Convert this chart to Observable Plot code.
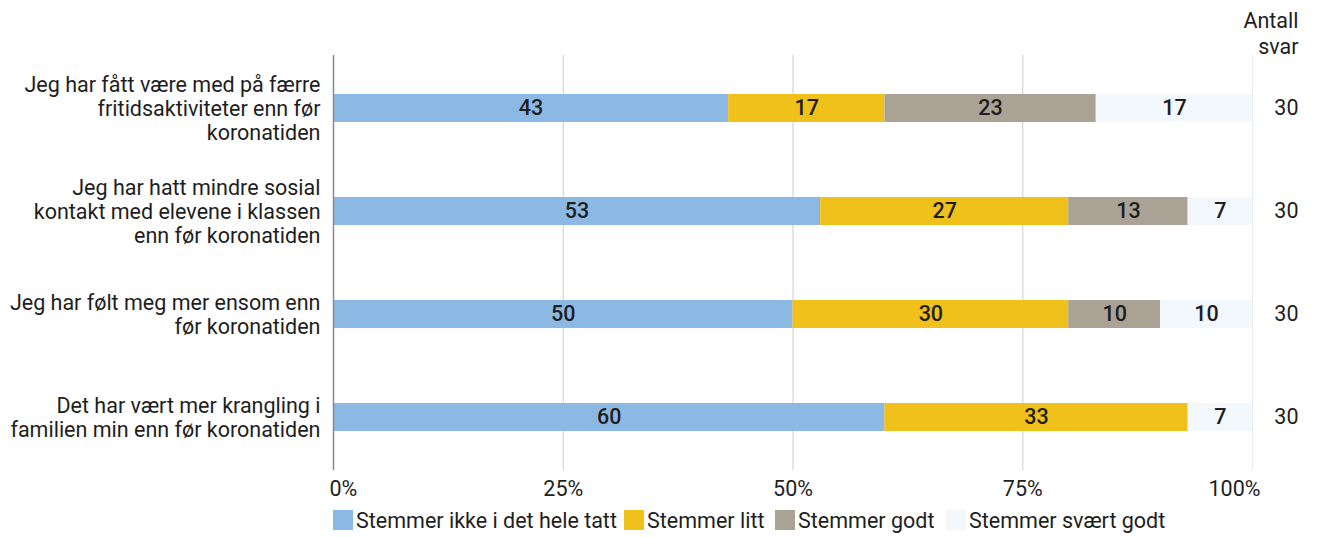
<!DOCTYPE html>
<html>
<head>
<meta charset="utf-8">
<script src="https://cdn.jsdelivr.net/npm/d3@7"></script>
<script src="https://cdn.jsdelivr.net/npm/@observablehq/plot@0.6"></script>
<style>
  body { margin: 0; background: #fff; font-family: Roboto, "Liberation Sans", sans-serif; }
  #legend { position: relative; height: 34px; font-size: 21.5px; font-weight: 400; color: #1e1e1e; }
  .item { position: absolute; top: 0; height: 34px; display: flex; align-items: center; white-space: nowrap; }
  .sw { width: 20px; height: 20px; margin-right: 3px; }
</style>
</head>
<body>
<div id="chart"></div>
<div id="legend"></div>
<script>
const categories = [
  "Jeg har fått være med på færre fritidsaktiviteter enn før koronatiden",
  "Jeg har hatt mindre sosial kontakt med elevene i klassen enn før koronatiden",
  "Jeg har følt meg mer ensom enn før koronatiden",
  "Det har vært mer krangling i familien min enn før koronatiden"
];
const categoryLabels = [
  "Jeg har fått være med på færre\nfritidsaktiviteter enn før\nkoronatiden",
  "Jeg har hatt mindre sosial\nkontakt med elevene i klassen\nenn før koronatiden",
  "Jeg har følt meg mer ensom enn\nfør koronatiden",
  "Det har vært mer krangling i\nfamilien min enn før koronatiden"
];
const seriesNames = ["Stemmer ikke i det hele tatt", "Stemmer litt", "Stemmer godt", "Stemmer svært godt"];
const seriesColors = ["#8cb9e4", "#efc11a", "#aaa295", "#f3f8fc"];
const stemmerIkke = [43, 53, 50, 60];
const stemmerLitt = [17, 27, 30, 33];
const stemmerGodt = [23, 13, 10, 0];
const stemmerSvaertGodt = [17, 7, 10, 7];
const antallSvar = [30, 30, 30, 30];
const antallHeader = "Antall\nsvar";
const xTicks = [0, 25, 50, 75, 100];
const xTickLabels = ["0%", "25%", "50%", "75%", "100%"];

const seriesValues = [stemmerIkke, stemmerLitt, stemmerGodt, stemmerSvaertGodt];
const data = categories.flatMap((c, i) =>
  seriesValues.map((arr, j) => ({ category: c, series: seriesNames[j], value: arr[i] }))
);
const fmtX = d => xTickLabels[xTicks.indexOf(d)];
const txt = "#1e1e1e";
const fs = 21.5;
const fw = 400;

const chart = Plot.plot({
  width: 1341,
  height: 503,
  marginLeft: 333,
  marginRight: 89,
  marginTop: 55,
  marginBottom: 33,
  style: { fontFamily: "Roboto, 'Liberation Sans', sans-serif", fontSize: fs + "px", color: txt, background: "#fff" },
  x: { domain: [0, 100], label: null },
  y: { domain: categories, paddingInner: 0.73, paddingOuter: 0.37, axis: null },
  color: { domain: seriesNames, range: seriesColors },
  marks: [
    Plot.ruleX([25, 50, 75], { stroke: "#d4d4d4", strokeWidth: 1.2 }),
    Plot.ruleX([100], { stroke: "#ececec", strokeWidth: 1.2 }),
    Plot.barX(data, Plot.stackX({ x: "value", y: "category", fill: "series" })),
    Plot.ruleX([0], { stroke: "#8a8a8a", strokeWidth: 1.5 }),
    Plot.text(data, Plot.stackX({
      x: "value", y: "category", z: "series",
      text: d => d.value > 0 ? String(d.value) : "",
      fill: txt, fontSize: fs, fontWeight: 500
    })),
    Plot.text(categories, {
      y: d => d, text: (d, i) => categoryLabels[i],
      frameAnchor: "left", textAnchor: "end", dx: -13,
      lineHeight: 1.12, fontSize: fs, fontWeight: fw, fill: txt
    }),
    Plot.text(categories, {
      y: d => d, text: (d, i) => String(antallSvar[i]),
      frameAnchor: "right", dx: 46, fontSize: fs, fontWeight: fw, fill: txt
    }),
    Plot.text([antallHeader], {
      text: d => d, frameAnchor: "top-right", dx: 46, dy: -2,
      lineAnchor: "bottom", lineHeight: 1.18, fontSize: fs, fontWeight: fw, fill: txt
    }),
    Plot.axisX([25, 50, 75], { tickSize: 0, tickPadding: 10, tickFormat: fmtX, label: null, fontSize: fs, fontWeight: fw, fill: txt }),
    Plot.axisX([0], { tickSize: 0, tickPadding: 10, tickFormat: fmtX, label: null, textAnchor: "start", dx: -4, fontSize: fs, fontWeight: fw, fill: txt }),
    Plot.axisX([100], { tickSize: 0, tickPadding: 10, tickFormat: fmtX, label: null, textAnchor: "end", dx: 8, fontSize: fs, fontWeight: fw, fill: txt })
  ]
});
document.getElementById("chart").appendChild(chart);

// legend item left edges (px), matching the reference layout
const legendLeft = [333, 624, 775, 946];
const legend = document.getElementById("legend");
seriesNames.forEach((name, i) => {
  const item = document.createElement("div");
  item.className = "item";
  item.style.left = legendLeft[i] + "px";
  const sw = document.createElement("span");
  sw.className = "sw";
  sw.style.background = seriesColors[i];
  const label = document.createElement("span");
  label.textContent = name;
  item.appendChild(sw);
  item.appendChild(label);
  legend.appendChild(item);
});
</script>
</body>
</html>
